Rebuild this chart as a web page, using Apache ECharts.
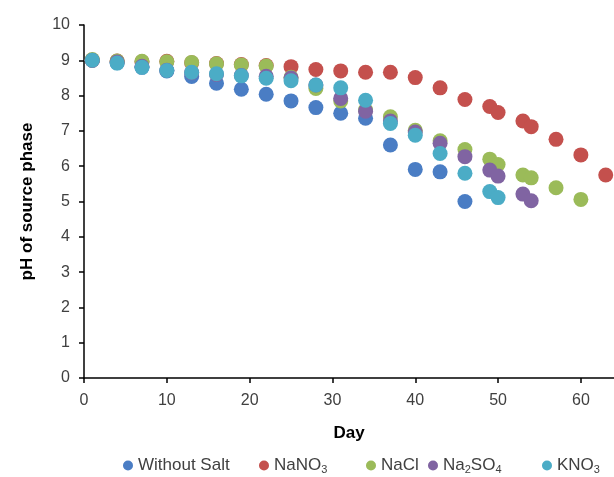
<!DOCTYPE html>
<html>
<head>
<meta charset="utf-8">
<script src="https://cdn.jsdelivr.net/npm/echarts@6/dist/echarts.min.js"></script>
<style>
html,body{margin:0;padding:0;background:#fff;}
#chart{width:614px;height:477px;}
</style>
</head>
<body>
<div id="chart"></div>
<script>
const days = [1,4,7,10,13,16,19,22,25,28,31,34,37,40,43,46,49,50,53,54,57,60,63];
const withoutSalt = [9.00,8.93,8.80,8.70,8.54,8.35,8.18,8.04,7.85,7.66,7.50,7.36,6.60,5.91,5.84,5.00];
const naNO3 = [9.00,8.98,8.96,8.97,8.93,8.91,8.88,8.85,8.82,8.74,8.70,8.66,8.66,8.51,8.22,7.89,7.69,7.52,7.28,7.12,6.76,6.32,5.75];
const naCl = [9.02,8.98,8.97,8.96,8.94,8.90,8.87,8.84,8.52,8.20,7.85,7.60,7.40,7.02,6.72,6.47,6.20,6.05,5.75,5.67,5.39,5.06];
const na2SO4 = [9.00,8.95,8.83,8.72,8.65,8.60,8.57,8.55,8.50,8.30,7.92,7.56,7.28,6.97,6.65,6.27,5.89,5.72,5.21,5.02];
const kNO3 = [9.00,8.92,8.80,8.71,8.66,8.62,8.56,8.49,8.42,8.30,8.22,7.87,7.21,6.88,6.36,5.80,5.28,5.11];
const xTicks = [0,10,20,30,40,50,60];
const yTicks = [0,1,2,3,4,5,6,7,8,9,10];

const seriesNames = ['Without Salt','NaNO3','NaCl','Na2SO4','KNO3'];
const seriesValues = [withoutSalt, naNO3, naCl, na2SO4, kNO3];
const colors = ['#4A7DC4','#C4504D','#9BBB59','#8064A2','#4BACC6'];
const legendLabels = {
  'Without Salt': 'Without Salt',
  'NaNO3': 'NaNO{s|3}',
  'NaCl': 'NaCl',
  'Na2SO4': 'Na{s|2}SO{s|4}',
  'KNO3': 'KNO{s|3}'
};
const legendLeft = [118, 254, 361, 423, 537];

const pairs = vals => vals.map((v, i) => [days[i], v]);

const chart = echarts.init(document.getElementById('chart'));
chart.setOption({
  animation: false,
  backgroundColor: '#ffffff',
  color: colors,
  grid: {left: 84, top: 25, bottom: 99, right: 0, containLabel: false},
  xAxis: {
    type: 'value', min: 0, max: 64, interval: 10,
    name: 'Day', nameLocation: 'middle', nameGap: 47,
    nameTextStyle: {fontFamily: 'Liberation Sans', fontSize: 17, fontWeight: 'bold', color: '#000'},
    axisLine: {show: true, lineStyle: {color: '#000', width: 1.5}},
    axisTick: {show: true, length: 5, lineStyle: {color: '#000', width: 1.5},
      interval: (idx, v) => xTicks.includes(Number(v))},
    axisLabel: {fontFamily: 'Liberation Sans', fontSize: 16, color: '#404040', margin: 15,
      showMaxLabel: false,
      formatter: v => xTicks.includes(v) ? String(v) : ''},
    splitLine: {show: false}
  },
  yAxis: {
    type: 'value', min: 0, max: 10, interval: 1,
    name: 'pH of source phase', nameLocation: 'middle', nameGap: 48, nameRotate: 90,
    nameTextStyle: {fontFamily: 'Liberation Sans', fontSize: 17, fontWeight: 'bold', color: '#000'},
    axisLine: {show: true, lineStyle: {color: '#000', width: 1.5}},
    axisTick: {show: true, length: 5, lineStyle: {color: '#000', width: 1.5}},
    axisLabel: {fontFamily: 'Liberation Sans', fontSize: 16, color: '#404040', margin: 14,
      formatter: v => yTicks.includes(v) ? String(v) : ''},
    splitLine: {show: false}
  },
  legend: seriesNames.map((n, i) => ({
    data: [n], left: legendLeft[i], top: 452, orient: 'horizontal',
    icon: 'circle', itemWidth: 10, itemHeight: 10, itemGap: 0,
    formatter: name => legendLabels[name],
    textStyle: {fontFamily: 'Liberation Sans', fontSize: 17, color: '#404040',
      rich: {s: {fontFamily: 'Liberation Sans', fontSize: 11, color: '#404040', verticalAlign: 'bottom', lineHeight: 11, padding: [0,0,-1,0]}}}
  })),
  series: seriesNames.map((n, i) => ({
    name: n, type: 'scatter', symbol: 'circle', symbolSize: 15,
    itemStyle: {color: colors[i], opacity: 1},
    data: pairs(seriesValues[i])
  }))
});
</script>
</body>
</html>
